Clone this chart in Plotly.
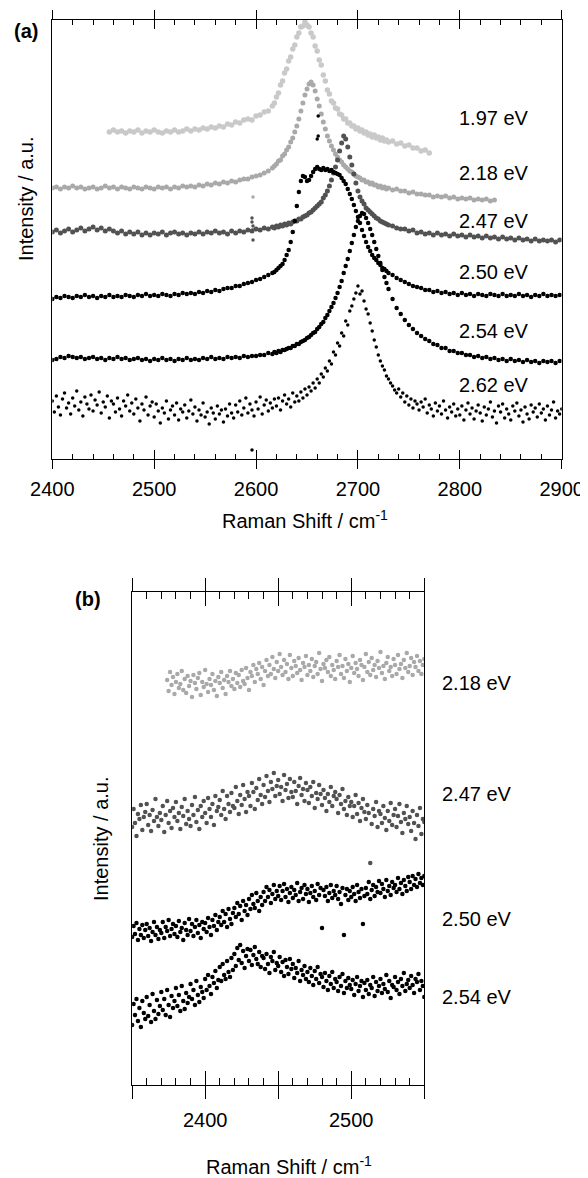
import plotly.graph_objects as go

# ---------------- panel (a) data: Raman shift grid (cm-1) and intensities (a.u.)
shift_a = [2400, 2404, 2408, 2412, 2416, 2420, 2424, 2428, 2432, 2436,
           2440, 2444, 2448, 2452, 2456, 2460, 2464, 2468, 2472, 2476,
           2480, 2484, 2488, 2492, 2496, 2500, 2504, 2508, 2512, 2516,
           2520, 2524, 2528, 2532, 2536, 2540, 2544, 2548, 2552, 2556,
           2560, 2564, 2568, 2572, 2576, 2580, 2584, 2588, 2592, 2596,
           2600, 2604, 2608, 2612, 2616,
           2618, 2620, 2622, 2624, 2626, 2628, 2630, 2632, 2634, 2636,
           2638, 2640, 2642, 2644, 2646, 2648, 2650, 2652, 2654, 2656,
           2658, 2660, 2662, 2664, 2666, 2668, 2670, 2672, 2674, 2676,
           2678, 2680, 2682, 2684, 2686, 2688, 2690, 2692, 2694, 2696,
           2698, 2700, 2702, 2704, 2706, 2708, 2710, 2712, 2714, 2716,
           2718, 2720, 2722, 2724, 2726, 2728, 2730,
           2734, 2738, 2742, 2746, 2750, 2754, 2758, 2762, 2766, 2770,
           2774, 2778, 2782, 2786, 2790, 2794, 2798, 2802, 2806, 2810,
           2814, 2818, 2822, 2826, 2830, 2834, 2838, 2842, 2846, 2850,
           2854, 2858, 2862, 2866, 2870, 2874, 2878, 2882, 2886, 2890,
           2894, 2898]

# 1.97 eV spans 2456..2770
int_197 = [327, 329, 327, 328, 326, 328, 327, 329, 326, 328,
           327, 329, 327, 326, 328, 327, 329, 327, 328, 330,
           328, 330, 329, 331, 330, 332, 331, 333, 332, 335,
           334, 337, 336, 339, 340, 339, 343, 344, 347, 348, 353,
           356, 362, 366, 374, 378, 386, 390, 398, 402, 410,
           414, 422, 426, 432, 433, 437, 434, 432, 426, 422,
           413, 408, 399, 394, 384, 378, 369, 365, 358, 356,
           351, 350, 345, 344, 340, 340, 336, 336, 333, 333,
           330, 331, 328, 329, 326, 327, 324, 325, 322, 324,
           321, 322, 319, 321, 318, 319, 317,
           318, 315, 316, 313, 314, 311, 311, 308, 309, 306]

# 2.18 eV spans 2400..2834
int_218 = [271, 272, 270, 272, 271, 273, 271, 272, 270, 271,
           272, 270, 271, 273, 271, 272, 270, 272, 271, 270,
           272, 271, 270, 272, 271, 270, 272, 271, 272, 270,
           272, 271, 273, 272, 273, 272, 274, 273, 275, 274,
           276, 275, 277, 276, 278, 277, 279, 280, 280, 282,
           283, 284, 286, 288, 291,
           293, 295, 298, 299, 303, 305, 309, 312, 317, 321,
           327, 333, 340, 348, 356, 364, 370, 375, 377, 374,
           368, 360, 353, 345, 337, 330, 323, 318, 313, 309,
           305, 302, 299, 297, 294, 292, 290, 288, 287, 285,
           283, 282, 281, 279, 279, 277, 277, 275, 276, 274,
           274, 272, 273, 271, 272, 270, 271,
           269, 270, 268, 268, 266, 267, 265, 265, 264, 264,
           262, 263, 262, 263, 261, 262, 260, 261, 260, 261,
           259, 260, 259, 260, 258, 259]

int_247 = [227, 229, 226, 228, 230, 227, 229, 231, 228, 230,
           232, 229, 231, 228, 230, 228, 226, 228, 225, 227,
           225, 227, 224, 226, 224, 226, 225, 227, 224, 226,
           227, 225, 226, 224, 226, 225, 227, 225, 227, 226,
           228, 226, 227, 225, 228, 226, 228, 227, 229, 228,
           230, 229, 231, 230, 232,
           231, 233, 232, 234, 233, 235, 234, 236, 235, 237,
           238, 238, 240, 240, 242, 243, 244, 246, 247, 249,
           251, 253, 255, 257, 261, 264, 268, 273, 279, 286,
           292, 299, 308, 316, 323, 320, 312, 302, 294, 285,
           276, 268, 262, 258, 255, 251, 249, 247, 245, 243,
           241, 240, 238, 237, 236, 235, 234,
           233, 231, 230, 230, 228, 229, 226, 227, 225, 226,
           224, 226, 224, 225, 223, 225, 223, 224, 222, 224,
           222, 223, 221, 223, 221, 222, 220, 222, 220, 221,
           219, 221, 219, 220, 218, 220, 218, 219, 218, 219,
           217, 219]

int_250 = [160, 162, 161, 163, 162, 161, 163, 162, 164, 162,
           163, 161, 163, 162, 164, 162, 163, 162, 164, 163,
           162, 164, 163, 165, 163, 164, 163, 165, 164, 163,
           165, 164, 166, 165, 166, 165, 167, 166, 168, 167,
           169, 168, 170, 171, 171, 173, 173, 175, 176, 177,
           179, 180, 182, 184, 186,
           187, 189, 191, 193, 195, 199, 204, 209, 217, 227,
           238, 253, 267, 278, 283, 282, 278, 279, 283, 287,
           290, 292, 290, 289, 291, 289, 290, 288, 289, 287,
           286, 285, 284, 281, 278, 275, 270, 265, 260, 254,
           248, 242, 236, 229, 223, 217, 212, 208, 204, 201,
           199, 196, 194, 191, 190, 188, 186,
           184, 181, 179, 177, 175, 173, 172, 171, 169, 169,
           167, 168, 166, 167, 165, 166, 164, 166, 164, 165,
           163, 165, 164, 163, 165, 164, 163, 165, 163, 164,
           163, 165, 163, 164, 162, 164, 163, 165, 163, 164,
           163, 164]

int_254 = [99, 100, 102, 101, 103, 102, 101, 102, 100, 101,
           102, 100, 101, 99, 101, 100, 102, 100, 101, 99,
           100, 101, 99, 100, 98, 100, 99, 101, 99, 100,
           98, 100, 99, 101, 99, 100, 99, 101, 100, 102,
           100, 101, 100, 102, 101, 102, 101, 103, 102, 103,
           103, 104, 104, 106, 105,
           107, 106, 108, 107, 109, 109, 110, 111, 111, 113,
           113, 115, 115, 117, 118, 119, 121, 122, 124, 126,
           127, 130, 132, 135, 137, 141, 144, 148, 152, 156,
           161, 166, 172, 178, 186, 193, 200, 208, 216, 224,
           232, 238, 243, 246, 245, 241, 236, 230, 224, 217,
           210, 203, 196, 189, 182, 176, 170,
           160, 151, 145, 139, 134, 130, 126, 123, 120, 118,
           115, 114, 111, 111, 108, 108, 106, 106, 104, 104,
           102, 103, 101, 102, 100, 101, 99, 100, 98, 100,
           98, 99, 97, 99, 97, 98, 96, 98, 97, 98,
           96, 98]

# the noisy 2.62 eV spectrum is sampled every 2 cm-1
shift_262 = [2400, 2402, 2404, 2406, 2408, 2410, 2412, 2414, 2416, 2418,
             2420, 2422, 2424, 2426, 2428, 2430, 2432, 2434, 2436, 2438,
             2440, 2442, 2444, 2446, 2448, 2450, 2452, 2454, 2456, 2458,
             2460, 2462, 2464, 2466, 2468, 2470, 2472, 2474, 2476, 2478,
             2480, 2482, 2484, 2486, 2488, 2490, 2492, 2494, 2496, 2498,
             2500, 2502, 2504, 2506, 2508, 2510, 2512, 2514, 2516, 2518,
             2520, 2522, 2524, 2526, 2528, 2530, 2532, 2534, 2536, 2538,
             2540, 2542, 2544, 2546, 2548, 2550, 2552, 2554, 2556, 2558,
             2560, 2562, 2564, 2566, 2568, 2570, 2572, 2574, 2576, 2578,
             2580, 2582, 2584, 2586, 2588, 2590, 2592, 2594, 2596, 2598,
             2600, 2602, 2604, 2606, 2608, 2610, 2612, 2614, 2616, 2618,
             2620, 2622, 2624, 2626, 2628, 2630, 2632, 2634, 2636, 2638,
             2640, 2642, 2644, 2646, 2648, 2650, 2652, 2654, 2656, 2658,
             2660, 2662, 2664, 2666, 2668, 2670, 2672, 2674, 2676, 2678,
             2680, 2682, 2684, 2686, 2688, 2690, 2692, 2694, 2696, 2698,
             2700, 2702, 2704, 2706, 2708, 2710, 2712, 2714, 2716, 2718,
             2720, 2722, 2724, 2726, 2728, 2730, 2732, 2734, 2736, 2738,
             2740, 2742, 2744, 2746, 2748, 2750, 2752, 2754, 2756, 2758,
             2760, 2762, 2764, 2766, 2768, 2770, 2772, 2774, 2776, 2778,
             2780, 2782, 2784, 2786, 2788, 2790, 2792, 2794, 2796, 2798,
             2800, 2802, 2804, 2806, 2808, 2810, 2812, 2814, 2816, 2818,
             2820, 2822, 2824, 2826, 2828, 2830, 2832, 2834, 2836, 2838,
             2840, 2842, 2844, 2846, 2848, 2850, 2852, 2854, 2856, 2858,
             2860, 2862, 2864, 2866, 2868, 2870, 2872, 2874, 2876, 2878,
             2880, 2882, 2884, 2886, 2888, 2890, 2892, 2894, 2896, 2898,
             2900]

int_262 = [58, 47, 63, 52, 44, 60, 66, 51, 56, 45,
           61, 53, 68, 49, 57, 43, 62, 55, 50, 64,
           48, 59, 54, 67, 46, 57, 52, 63, 41, 58,
           55, 47, 61, 50, 43, 58, 53, 64, 48, 56,
           45, 60, 51, 38, 55, 49, 62, 44, 53, 57,
           42, 55, 48, 36, 51, 46, 58, 40, 49, 53,
           44, 56, 39, 50, 47, 54, 41, 48, 59, 45,
           52, 38, 49, 44, 56, 42, 47, 35, 51, 46,
           40, 53, 45, 49, 37, 50, 43, 55, 46, 41,
           54, 47, 58, 44, 51, 61, 46, 55, 49, 43,
           57, 50, 62, 45, 54, 59, 48, 56, 51, 60,
           53, 61, 49, 58, 64, 55, 60, 52, 66, 57,
           63, 58, 67, 61, 70, 64, 72, 68, 76, 71,
           80, 76, 85, 82, 91, 88, 98, 95, 107, 104,
           116, 113, 126, 123, 138, 134, 148, 153, 160, 166,
           173, 165, 168, 158, 150, 145, 136, 128, 119, 112,
           104, 98, 93, 89, 83, 80, 76, 73, 69, 66,
           70, 62, 66, 57, 63, 54, 60, 51, 58, 55,
           49, 57, 52, 60, 46, 54, 50, 43, 56, 48,
           53, 45, 58, 49, 41, 52, 47, 55, 43, 50,
           44, 53, 39, 49, 56, 45, 51, 40, 48, 54,
           46, 38, 52, 44, 50, 57, 42, 48, 36, 53,
           47, 55, 41, 50, 45, 39, 53, 48, 56, 43,
           49, 37, 52, 45, 40, 54, 47, 51, 42, 55,
           46, 50, 39, 53, 44, 49, 57, 41, 48, 45,
           50]

# stray points (spikes) seen in panel (a)
spike_218_x, spike_218_y = [2597], [262]
spike_247_x, spike_247_y = [2596, 2596, 2597, 2597, 2597], [241, 237, 233, 229, 219]
spike_250_x, spike_250_y = [2661, 2661, 2660], [343, 323, 320]
spike_262_x, spike_262_y = [2596], [9]

labels_a = ['1.97 eV', '2.18 eV', '2.47 eV', '2.50 eV', '2.54 eV', '2.62 eV']

# ---------------- panel (b) data, every 1 cm-1
shift_b = [2350, 2351, 2352, 2353, 2354, 2355, 2356, 2357, 2358, 2359,
           2360, 2361, 2362, 2363, 2364, 2365, 2366, 2367, 2368, 2369,
           2370, 2371, 2372, 2373, 2374, 2375, 2376, 2377, 2378, 2379,
           2380, 2381, 2382, 2383, 2384, 2385, 2386, 2387, 2388, 2389,
           2390, 2391, 2392, 2393, 2394, 2395, 2396, 2397, 2398, 2399,
           2400, 2401, 2402, 2403, 2404, 2405, 2406, 2407, 2408, 2409,
           2410, 2411, 2412, 2413, 2414, 2415, 2416, 2417, 2418, 2419,
           2420, 2421, 2422, 2423, 2424, 2425, 2426, 2427, 2428, 2429,
           2430, 2431, 2432, 2433, 2434, 2435, 2436, 2437, 2438, 2439,
           2440, 2441, 2442, 2443, 2444, 2445, 2446, 2447, 2448, 2449,
           2450, 2451, 2452, 2453, 2454, 2455, 2456, 2457, 2458, 2459,
           2460, 2461, 2462, 2463, 2464, 2465, 2466, 2467, 2468, 2469,
           2470, 2471, 2472, 2473, 2474, 2475, 2476, 2477, 2478, 2479,
           2480, 2481, 2482, 2483, 2484, 2485, 2486, 2487, 2488, 2489,
           2490, 2491, 2492, 2493, 2494, 2495, 2496, 2497, 2498, 2499,
           2500, 2501, 2502, 2503, 2504, 2505, 2506, 2507, 2508, 2509,
           2510, 2511, 2512, 2513, 2514, 2515, 2516, 2517, 2518, 2519,
           2520, 2521, 2522, 2523, 2524, 2525, 2526, 2527, 2528, 2529,
           2530, 2531, 2532, 2533, 2534, 2535, 2536, 2537, 2538, 2539,
           2540, 2541, 2542, 2543, 2544, 2545, 2546, 2547, 2548, 2549,
           2550]

# 2.18 eV spans 2374..2550
zoom_218 = [405, 394, 413, 400, 408, 391, 403, 411, 397, 401,
            414, 395, 406, 392, 409, 399, 404, 388, 410, 402,
            396, 407, 412, 390, 403, 398, 415, 401, 393, 406,
            400, 411, 395, 404, 389, 408, 402, 413, 397, 405,
            391, 409, 403, 414, 399, 406, 396, 412, 402, 410,
            398, 415, 404, 401, 417, 407, 395, 413, 409, 420,
            403, 416, 411, 422, 406, 418, 400, 414, 425, 409,
            420, 411, 428, 416, 407, 423, 414, 431, 418, 410,
            425, 413, 421, 406, 430, 417, 409, 424, 419, 412,
            427, 415, 405, 422, 418, 429, 410, 420, 414, 426,
            408, 419, 423, 411, 432, 416, 404, 421, 417, 425,
            413, 428, 409, 420, 415, 406, 424, 418, 430, 411,
            419, 407, 426, 414, 421, 403, 417, 429, 412, 422,
            416, 409, 425, 420, 405, 418, 431, 413, 423, 410,
            427, 415, 420, 408, 424, 417, 433, 412, 419, 406,
            422, 428, 414, 418, 409, 426, 420, 411, 430, 416,
            421, 407, 425, 417, 432, 413, 419, 427, 410, 423,
            418, 429, 414, 424, 411, 420, 426]

zoom_247 = [258, 276, 262, 249, 271, 266, 280, 255, 268, 273,
            281, 260, 270, 254, 275, 264, 286, 268, 259, 272,
            265, 279, 253, 270, 284, 262, 274, 257, 277, 268,
            283, 264, 272, 256, 278, 269, 286, 261, 274, 266,
            259, 280, 270, 288, 263, 275, 256, 279, 268, 284,
            272, 262, 287, 276, 268, 281, 260, 289, 274, 278,
            285, 270, 294, 276, 266, 289, 281, 273, 292, 279,
            277, 298, 284, 271, 290, 280, 300, 286, 273, 293,
            289, 279, 302, 293, 276, 297, 285, 306, 290, 281,
            300, 288, 309, 294, 283, 303, 296, 312, 289, 299,
            305, 291, 298, 284, 310, 295, 301, 287, 306, 293,
            288, 303, 294, 281, 299, 307, 290, 296, 284, 302,
            295, 282, 298, 289, 303, 277, 292, 286, 300, 291,
            280, 295, 287, 274, 291, 283, 298, 279, 289, 293,
            286, 272, 290, 281, 296, 276, 284, 270, 288, 279,
            283, 268, 279, 290, 271, 282, 264, 277, 286, 273,
            266, 280, 272, 222, 261, 276, 269, 283, 258, 274,
            271, 262, 279, 267, 255, 274, 264, 282, 260, 270,
            276, 258, 269, 281, 263, 252, 272, 266, 279, 261,
            268, 254, 274, 262, 246, 270, 259, 277, 251, 266,
            263]

zoom_250 = [148, 159, 151, 162, 145, 156, 150, 160, 147, 155,
            161, 149, 157, 144, 153, 163, 150, 158, 146, 155,
            152, 163, 147, 158, 154, 165, 149, 156, 161, 151,
            159, 148, 164, 153, 157, 145, 162, 155, 150, 166,
            154, 161, 149, 158, 165, 152, 160, 147, 163, 156,
            162, 153, 167, 158, 150, 165, 159, 170, 155, 163,
            168, 160, 174, 163, 171, 158, 176, 166, 161, 172,
            177, 168, 182, 171, 179, 165, 184, 174, 180, 170,
            186, 176, 190, 181, 177, 192, 184, 174, 188, 180,
            193, 184, 198, 188, 195, 182, 191, 200, 186, 194,
            189, 199, 185, 194, 201, 188, 196, 183, 192, 198,
            187, 195, 190, 202, 184, 193, 197, 186, 200, 191,
            196, 183, 192, 199, 188, 194, 185, 201, 190, 197,
            157, 195, 189, 198, 184, 192, 200, 187, 194, 190,
            199, 186, 193, 181, 197, 150, 190, 196, 185, 194,
            188, 198, 191, 184, 200, 193, 187, 196, 161, 189,
            197, 191, 203, 186, 195, 200, 189, 198, 193, 204,
            192, 201, 196, 188, 205, 194, 199, 190, 203, 197,
            200, 193, 207, 196, 202, 191, 205, 199, 194, 208,
            203, 196, 209, 200, 206, 198, 211, 202, 207, 200,
            209]

zoom_254 = [60, 81, 70, 86, 64, 77, 58, 84, 72, 66,
            88, 69, 80, 63, 91, 74, 66, 85, 71, 79,
            93, 75, 86, 70, 95, 80, 68, 89, 77, 84,
            97, 79, 90, 74, 99, 84, 76, 92, 82, 88,
            101, 86, 95, 80, 104, 90, 83, 98, 93, 87,
            106, 95, 110, 99, 91, 108, 102, 114, 97, 105,
            118, 104, 121, 110, 106, 124, 113, 108, 127, 115,
            131, 119, 137, 125, 140, 122, 134, 117, 129, 136,
            124, 135, 120, 130, 138, 126, 121, 133, 118, 129,
            127, 116, 131, 121, 112, 128, 124, 133, 115, 122,
            119, 128, 113, 123, 109, 125, 118, 111, 126, 116,
            121, 107, 117, 112, 124, 104, 115, 110, 119, 106,
            113, 103, 117, 109, 100, 114, 106, 118, 102, 111,
            108, 98, 112, 104, 95, 109, 101, 113, 97, 106,
            103, 94, 108, 99, 111, 92, 104, 97, 107, 100,
            96, 105, 90, 101, 108, 94, 99, 104, 88, 102,
            95, 105, 91, 100, 97, 108, 89, 103, 94, 99,
            106, 92, 101, 96, 110, 93, 104, 87, 100, 98,
            108, 95, 103, 91, 106, 99, 112, 94, 101, 105,
            97, 109, 100, 92, 106, 103, 111, 95, 104, 99,
            88]

labels_b = ['2.18 eV', '2.47 eV', '2.50 eV', '2.54 eV']

LIGHT, MID, DARK, BLACK = '#c9c9c9', '#a9a9a9', '#525252', '#000000'

# the page body keeps its default 8px margin, so the figure is drawn 8px in
# from the window's top-left corner; positions below are window pixels
OFF, FW, FH = 8, 580, 1170


def px(x):
    return (x - OFF) / FW


def py(y):
    return 1 - (y - OFF) / FH


fig = go.Figure()


def dots(x, y, color, size, xa='x', ya='y'):
    fig.add_trace(go.Scatter(x=x, y=y, mode='markers', xaxis=xa, yaxis=ya,
                             marker=dict(color=color, size=size, line=dict(width=0)),
                             hoverinfo='skip'))


dots(shift_a[14:122], int_197, LIGHT, 5.5)
dots(shift_a[:138], int_218, MID, 5)
dots(spike_218_x, spike_218_y, MID, 3.5)
dots(shift_a, int_247, DARK, 5)
dots(spike_247_x, spike_247_y, DARK, 3.5)
dots(shift_a, int_250, BLACK, 4.5)
dots(spike_250_x, spike_250_y, BLACK, 3.5)
dots(shift_a, int_254, BLACK, 4.5)
dots(shift_262, int_262, BLACK, 3.5)
dots(spike_262_x, spike_262_y, BLACK, 3.5)

dots(shift_b[24:], zoom_218, MID, 4.5, 'x2', 'y2')
dots(shift_b, zoom_247, DARK, 4.5, 'x2', 'y2')
dots(shift_b, zoom_250, BLACK, 4.5, 'x2', 'y2')
dots(shift_b, zoom_254, BLACK, 4.5, 'x2', 'y2')

# empty traces so the inside-tick overlay axes get drawn
fig.add_trace(go.Scatter(x=[], y=[], xaxis='x3', yaxis='y', showlegend=False))
fig.add_trace(go.Scatter(x=[], y=[], xaxis='x4', yaxis='y2', showlegend=False))

base = dict(showgrid=False, zeroline=False, linecolor='black', linewidth=1,
            tickcolor='black', tickwidth=1)

fig.update_layout(
    width=FW, height=FH,
    margin=dict(l=0, r=0, t=0, b=0, autoexpand=False),
    plot_bgcolor='white', paper_bgcolor='white', showlegend=False,
    font=dict(family='Liberation Sans, Arial, sans-serif', size=20, color='black'),
    xaxis=dict(base, domain=[px(52.3), px(561.7)], anchor='y', range=[2400, 2900],
               tickmode='linear', tick0=2400, dtick=100, ticks='outside', ticklen=9,
               showline=True, mirror='ticks', tickfont=dict(size=20),
               ticklabelstandoff=3),
    xaxis3=dict(base, overlaying='x', anchor='y', range=[2400, 2900],
                tickmode='linear', tick0=2400, dtick=100, ticks='inside', ticklen=9,
                showticklabels=False, showline=False, mirror='ticks',
                minor=dict(ticks='inside', ticklen=5, tick0=2400, dtick=20,
                           tickcolor='black', tickwidth=1)),
    yaxis=dict(base, domain=[py(459), py(20)], anchor='x', range=[0, 439],
               showline=True, mirror=True, ticks='', showticklabels=False),
    xaxis2=dict(base, domain=[px(132.1), px(424.3)], anchor='y2', range=[2350, 2550],
                tickmode='linear', tick0=2400, dtick=50, ticklabelstep=2,
                ticks='outside', ticklen=13, showline=True, mirror='ticks',
                tickfont=dict(size=20), ticklabelstandoff=4),
    xaxis4=dict(base, overlaying='x2', anchor='y2', range=[2350, 2550],
                tickmode='linear', tick0=2350, dtick=50, ticks='inside', ticklen=14,
                showticklabels=False, showline=False, mirror='ticks',
                minor=dict(ticks='inside', ticklen=7, tick0=2350, dtick=10,
                           tickcolor='black', tickwidth=1)),
    yaxis2=dict(base, domain=[py(1085), py(592)], anchor='x2', range=[0, 493],
                showline=True, mirror=True, ticks='', showticklabels=False),
)

ann = []
ann.append(dict(text='<b>(a)</b>', x=px(25.5), y=py(31)))
ann.append(dict(text='<b>(b)</b>', x=px(87.5), y=py(599)))
ann.append(dict(text='Intensity / a.u.', x=px(26), y=py(199), textangle=-90))
ann.append(dict(text='Intensity / a.u.', x=px(101), y=py(838), textangle=-90))
ann.append(dict(text='Raman Shift / cm<sup>-1</sup>', x=px(305), y=py(519)))
ann.append(dict(text='Raman Shift / cm<sup>-1</sup>', x=px(289), y=py(1165)))
for a in ann:
    a.update(xref='paper', yref='paper', xanchor='center', yanchor='middle',
             showarrow=False, font=dict(size=20))

label_y_a = [118, 173, 220.7, 272.5, 330.7, 385]
for t, yy in zip(labels_a, label_y_a):
    ann.append(dict(text=t, x=px(457), y=py(yy), xref='paper', yref='paper',
                    xanchor='left', yanchor='middle', showarrow=False,
                    font=dict(size=20)))
label_y_b = [683, 794, 919.3, 997.3]
for t, yy in zip(labels_b, label_y_b):
    ann.append(dict(text=t, x=px(440), y=py(yy), xref='paper', yref='paper',
                    xanchor='left', yanchor='middle', showarrow=False,
                    font=dict(size=20)))
fig.update_layout(annotations=ann)

fig.write_html("out.html")
